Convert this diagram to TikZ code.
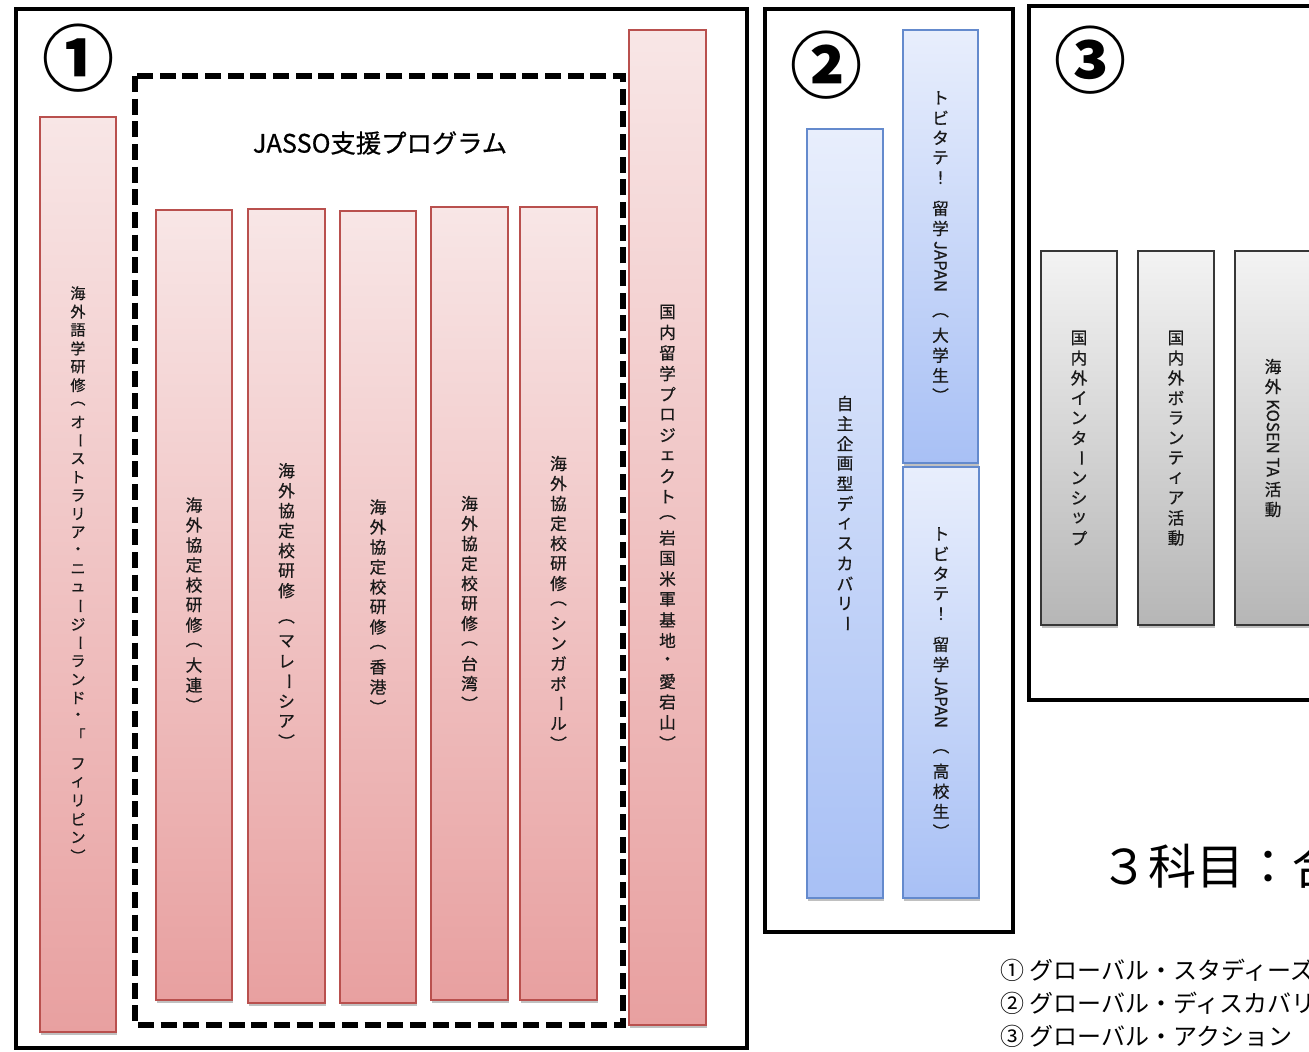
\documentclass[tikz,border=0pt]{standalone}
\usepackage{fontspec}
\setmainfont{Noto Sans CJK JP}
\newfontfamily\barfont{Noto Sans CJK JP}[FakeBold=0.6]
\usetikzlibrary{shadows}
\definecolor{redb}{RGB}{185,80,78}
\definecolor{redt}{RGB}{248,230,230}
\definecolor{redbt}{RGB}{232,160,160}
\definecolor{blueb}{RGB}{100,138,205}
\definecolor{bluet}{RGB}{232,238,252}
\definecolor{bluebt}{RGB}{168,192,245}
\definecolor{grayb}{RGB}{55,55,55}
\definecolor{grayt}{RGB}{243,243,243}
\definecolor{graybt}{RGB}{182,182,182}
\definecolor{txt}{RGB}{25,25,25}
\makeatletter
\newdimen\vtstep \vtstep=15pt
\newdimen\vtw \vtw=16pt
\def\vtgap{\relax}
\def\vtgapmark{\vtgap}
\newcommand\vt[1]{\vbox{\offinterlineskip\@tfor\vt@c:=#1\do{\vt@item}}}
\def\vt@item{%
  \ifx\vt@c\vtgapmark \kern 8pt
  \else
    \setbox0=\hbox{\vt@c}%
    \@tempdima=\ht0 \advance\@tempdima\dp0
    \ifdim\@tempdima>1.3em
      \kern 2pt\hbox to\vtw{\hss\box0\hss}\kern 2pt
    \else
      \vbox to\vtstep{\vss\hbox to\vtw{\hss\box0\hss}\vss}%
    \fi
  \fi}
\makeatother
\newcommand\vl[1]{\rotatebox{-90}{#1}}
\newcommand\vb{\rotatebox{-90}{ー}}
\newcommand\mkbar[7]{%
  \node[#2, minimum width={(#5-#3)*0.75pt}, minimum height={(#6-#4)*0.75pt}] (#1) at ({(#3+#5)/2},{(#4+#6)/2}) {#7};}
\tikzset{
  barbase/.style={inner sep=0pt, line width=1.3pt, text=txt,
    font=\barfont\fontsize{12.5}{14}\selectfont,
    drop shadow={shadow xshift=0.6pt, shadow yshift=-2pt, opacity=0.35, fill=black!70}},
  redbar/.style={barbase, draw=redb, top color=redt, bottom color=redbt},
  bluebar/.style={barbase, draw=blueb, top color=bluet, bottom color=bluebt},
  graybar/.style={barbase, draw=grayb, top color=grayt, bottom color=graybt},
  frame/.style={draw=black, line width=2.3pt},
  dashframe/.style={draw=black, line width=4pt, dash pattern=on 12pt off 5pt},
  bignum/.style={font=\fontsize{54}{60}\selectfont\bfseries, inner sep=0pt},
  legend/.style={font=\fontsize{18}{20}\selectfont, anchor=west, inner sep=0pt}
}
\begin{document}
\begin{tikzpicture}[x=0.75pt, y=-0.75pt]
\useasboundingbox (0,0) rectangle (1309,1051);
\clip (0,0) rectangle (1309,1051);
\fill[white] (0,0) rectangle (1309,1051);
% frames
\draw[frame] (16,9) rectangle (747,1048);
\draw[frame] (765,9) rectangle (1013,932);
\draw[frame] (1029,6) rectangle (1340,700);
\draw[dashframe] (135,76) rectangle (623,1025);
% numbers
\node[bignum] (n1) at (78,58) {①};
\node[bignum] (n2) at (826,65) {②};
\node[bignum] (n3) at (1090,60) {③};
\node[font=\barfont\fontsize{19}{21}\selectfont, inner sep=0pt] (jasso) at (380,143) {JASSO支援プログラム};
% section 1 bars
\mkbar{a}{redbar}{40}{117}{116}{1032}{\vtstep=13.8pt\fontsize{11.3}{13}\selectfont\vt{海外語学研修︵オ\vb ストラリア・ニュ\vb ジ\vb ランド・「\vtgap フィリピン︶}}
\mkbar{b1}{redbar}{156}{210}{232}{1000}{\vt{海外協定校研修︵大連︶}}
\mkbar{b2}{redbar}{248}{209}{325}{1003}{\vt{海外協定校研修\vtgap ︵マレ\vb シア︶}}
\mkbar{b3}{redbar}{340}{211}{416}{1003}{\vt{海外協定校研修︵香港︶}}
\mkbar{b4}{redbar}{431}{207}{508}{1000}{\vt{海外協定校研修︵台湾︶}}
\mkbar{b5}{redbar}{520}{207}{597}{1000}{\vt{海外協定校研修︵シンガポ\vb ル︶}}
\mkbar{c}{redbar}{629}{30}{706}{1025}{\vtstep=15.4pt\vt{国内留学プロジェクト︵岩国米軍基地・愛宕山︶}}
% section 2 bars
\mkbar{d}{bluebar}{807}{129}{883}{898}{\vt{自主企画型ディスカバリ\vb}}
\mkbar{e1}{bluebar}{903}{30}{978}{463}{\vt{トビタテ！\vtgap 留学{\vl{JAPAN}}\vtgap ︵大学生︶}}
\mkbar{e2}{bluebar}{903}{467}{979}{898}{\vt{トビタテ！\vtgap 留学{\vl{JAPAN}}\vtgap ︵高校生︶}}
% section 3 bars
\mkbar{f1}{graybar}{1041}{251}{1117}{625}{\vt{国内外インタ\vb ンシップ}}
\mkbar{f2}{graybar}{1138}{251}{1214}{625}{\vt{国内外ボランティア活動}}
\mkbar{f3}{graybar}{1235}{251}{1311}{625}{\vt{海外{\vl{KOSEN TA}}活動}}
% texts
\node[font=\fontsize{36}{40}\selectfont, anchor=west, inner sep=0pt] (total) at (1100,866) {３科目：合};
\node[legend] (l1) at (1000,970) {①\hspace{4pt}グローバル・スタディーズ};
\node[legend] (l2) at (1000,1003) {②\hspace{4pt}グローバル・ディスカバリ};
\node[legend] (l3) at (1000,1036) {③\hspace{4pt}グローバル・アクション};
\end{tikzpicture}
\end{document}
